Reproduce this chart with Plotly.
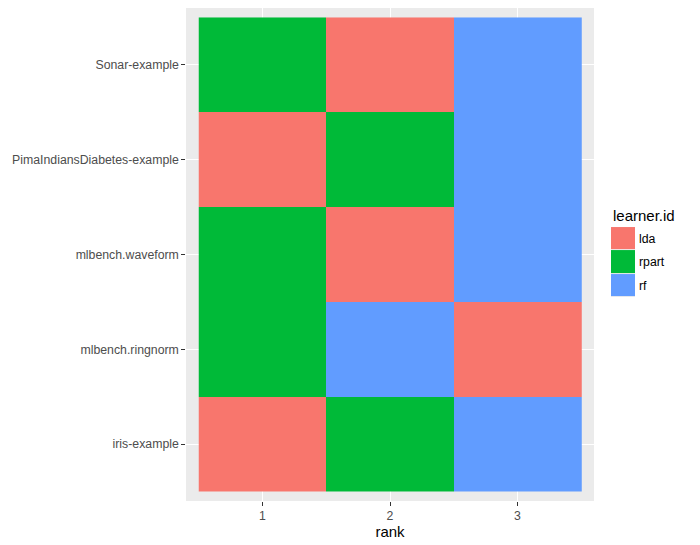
import plotly.graph_objects as go

# Data
datasets = ["iris-example", "mlbench.ringnorm", "mlbench.waveform",
            "PimaIndiansDiabetes-example", "Sonar-example"]   # bottom -> top
ranks = [1, 2, 3]
learners = ["lda", "rpart", "rf"]
learner_colors = ["#F8766D", "#00BA38", "#619CFF"]
# learner at rank 1, 2, 3 for each dataset (same order as datasets)
rank_learner = [
    ["lda", "rpart", "rf"],     # iris-example
    ["rpart", "rf", "lda"],     # mlbench.ringnorm
    ["rpart", "lda", "rf"],     # mlbench.waveform
    ["lda", "rpart", "rf"],     # PimaIndiansDiabetes-example
    ["rpart", "lda", "rf"],     # Sonar-example
]

code = {l: i for i, l in enumerate(learners)}
z = [[code[l] for l in row] for row in rank_learner]
n = len(learners)
cs = []
for i, c in enumerate(learner_colors):
    cs.append([i / n, c])
    cs.append([(i + 1) / n, c])

FONT = "Liberation Sans"
TICK = 12.3
TITLE = 15
fig = go.Figure()
fig.add_trace(go.Heatmap(
    x=ranks, y=datasets, z=z, zmin=-0.5, zmax=n - 0.5,
    colorscale=cs, showscale=False,
    customdata=rank_learner,
    hovertemplate="%{y}<br>rank %{x}: %{customdata}<extra></extra>",
))

# Legend drawn as a small key heatmap
leg_y = learners[::-1]
fig.add_trace(go.Heatmap(
    x=[0], y=leg_y, z=[[code[l]] for l in leg_y], zmin=-0.5, zmax=n - 0.5,
    colorscale=cs, showscale=False, ygap=1,
    xaxis="x2", yaxis="y2", hoverinfo="y",
))

W, H = 700, 545
ml, mr, mt, mb = 186, 6, 7.5, 43.5
pw = W - ml - mr
ph = H - mt - mb

fig.update_layout(
    width=W, height=H,
    margin=dict(l=ml, r=mr, t=mt, b=mb, pad=0),
    paper_bgcolor="white",
    plot_bgcolor="#EBEBEB",
    font=dict(family=FONT, color="#4D4D4D", size=TICK),
    showlegend=False,
    xaxis=dict(
        domain=[0, 408 / pw], range=[0.4, 3.6],
        tickvals=ranks, ticktext=[str(r) for r in ranks],
        showgrid=True, gridcolor="white", gridwidth=1.4,
        zeroline=False, ticks="outside", ticklen=3.7, tickwidth=1.1,
        tickcolor="#333333",
        tickfont=dict(family=FONT, size=TICK, color="#4D4D4D"),
        title=dict(text="rank", font=dict(family=FONT, size=TITLE, color="black"),
                   standoff=2),
    ),
    yaxis=dict(
        domain=[0, 1], range=[-0.6, 4.6],
        type="category", categoryorder="array", categoryarray=datasets,
        showgrid=True, gridcolor="white", gridwidth=1.4,
        zeroline=False, ticks="outside", ticklen=3.7, tickwidth=1.1,
        tickcolor="#333333",
        tickfont=dict(family=FONT, size=TICK, color="#4D4D4D"),
    ),
    xaxis2=dict(
        domain=[(611 - ml) / pw, (635 - ml) / pw], range=[-0.5, 0.5],
        visible=False, anchor="y2", fixedrange=True,
    ),
    yaxis2=dict(
        domain=[(H - mb - 297) / ph, (H - mb - 227) / ph], range=[-0.5, 2.5],
        type="category", categoryorder="array", categoryarray=leg_y,
        anchor="x2", side="right", showgrid=False, zeroline=False,
        ticks="", showline=False, fixedrange=True, ticklabelstandoff=3,
        tickfont=dict(family=FONT, size=TICK, color="black"),
    ),
    annotations=[dict(
        text="learner.id", x=(611 - ml) / pw, y=(H - mb - 215) / ph,
        xref="paper", yref="paper", xanchor="left", yanchor="middle",
        showarrow=False, font=dict(family=FONT, size=TITLE, color="black"),
    )],
)

fig.write_html("out.html",
               config={"displayModeBar": False},
               post_script="document.body.style.margin='0';"
                           "document.body.style.overflow='hidden';")
